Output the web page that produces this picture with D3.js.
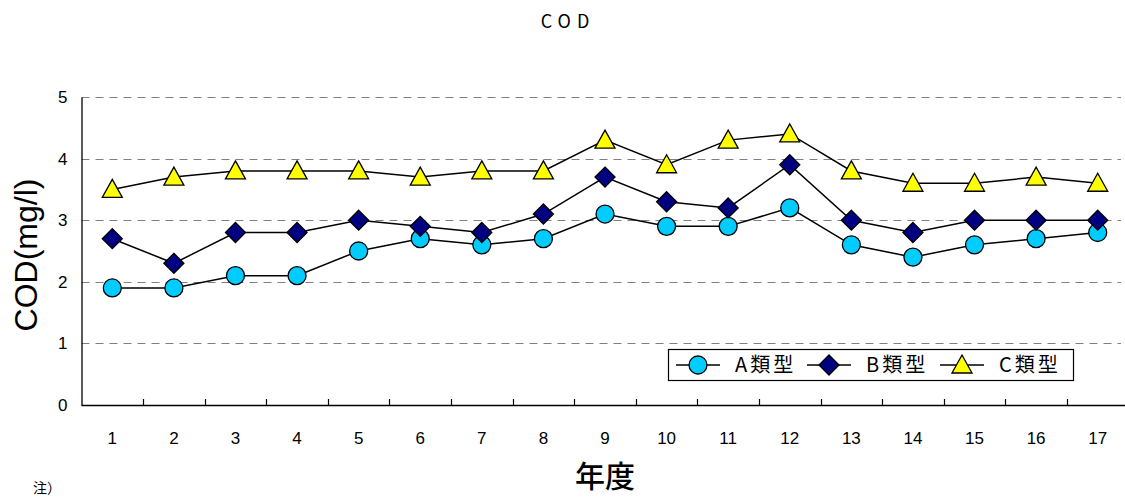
<!DOCTYPE html>
<html>
<head>
<meta charset="utf-8">
<script src="https://cdn.jsdelivr.net/npm/d3@7"></script>
<style>
  html, body { margin: 0; padding: 0; background: #fff; }
  svg { display: block; }
</style>
</head>
<body>
<svg id="chart" width="1125" height="497"></svg>
<script>
// Fiscal years and COD annual means (mg/l) by water-body class
const years = ["1","2","3","4","5","6","7","8","9","10","11","12","13","14","15","16","17"];
const typeA = [1.9,1.9,2.1,2.1,2.5,2.7,2.6,2.7,3.1,2.9,2.9,3.2,2.6,2.4,2.6,2.7,2.8];
const typeB = [2.7,2.3,2.8,2.8,3.0,2.9,2.8,3.1,3.7,3.3,3.2,3.9,3.0,2.8,3.0,3.0,3.0];
const typeC = [3.5,3.7,3.8,3.8,3.8,3.7,3.8,3.8,4.3,3.9,4.3,4.4,3.8,3.6,3.6,3.7,3.6];
const yTicks = [0,1,2,3,4,5];
const seriesNames = ["A類型","B類型","C類型"];

const svg = d3.select("#chart");
const plotLeft = 81.5, plotRight = 1128.5, plotTop = 97, plotBottom = 405;

const x = d3.scaleBand().domain(years).range([plotLeft, plotRight]).padding(0);
const y = d3.scaleLinear().domain([0, 5]).range([plotBottom, plotTop]);
const cx = d => x(d) + x.bandwidth() / 2;

// Title
svg.append("text")
  .attr("x", 568).attr("y", 28)
  .attr("text-anchor", "middle")
  .attr("font-family", "'Noto Sans CJK JP', sans-serif")
  .attr("font-size", 18)
  .attr("letter-spacing", 6)
  .text("COD");

// Dashed horizontal gridlines
svg.append("g").selectAll("line")
  .data(yTicks.filter(t => t > 0))
  .join("line")
  .attr("x1", plotLeft).attr("x2", 1121)
  .attr("y1", d => Math.round(y(d)) + 0.5).attr("y2", d => Math.round(y(d)) + 0.5)
  .attr("stroke", "#808080").attr("stroke-width", 1.2)
  .attr("stroke-dasharray", "8,6");

// Y axis
const yAxis = svg.append("g")
  .attr("transform", `translate(${plotLeft},0)`)
  .call(d3.axisLeft(y).tickValues(yTicks).tickSize(0).tickPadding(14).tickFormat(d3.format("d")));
yAxis.select(".domain").attr("stroke", "#000").attr("stroke-width", 1.3);
yAxis.selectAll("text")
  .attr("font-family", "'Liberation Sans', Arial, sans-serif")
  .attr("font-size", 17).attr("fill", "#000");

// X axis: ticks sit between categories, labels centred in each band
const xAxisG = svg.append("g").attr("transform", `translate(0,${plotBottom})`);
xAxisG.append("line")
  .attr("x1", plotLeft).attr("x2", 1125).attr("y1", 0.5).attr("y2", 0.5)
  .attr("stroke", "#000").attr("stroke-width", 1.3);
xAxisG.selectAll("line.tk")
  .data(years.slice(1))
  .join("line").attr("class", "tk")
  .attr("x1", d => Math.round(x(d)) + 0.5).attr("x2", d => Math.round(x(d)) + 0.5)
  .attr("y1", 0).attr("y2", -6)
  .attr("stroke", "#000").attr("stroke-width", 1.2);
xAxisG.selectAll("text")
  .data(years)
  .join("text")
  .attr("x", d => cx(d)).attr("y", 39)
  .attr("text-anchor", "middle")
  .attr("font-family", "'Liberation Sans', Arial, sans-serif")
  .attr("font-size", 17).attr("fill", "#000")
  .text(d => d);

// Axis titles
svg.append("text")
  .attr("transform", "translate(37,255) rotate(-90)")
  .attr("text-anchor", "middle")
  .attr("font-family", "'Liberation Sans', Arial, sans-serif")
  .attr("font-size", 32)
  .text("COD(mg/l)");

svg.append("text")
  .attr("x", 605).attr("y", 487)
  .attr("text-anchor", "middle")
  .attr("font-family", "'Noto Sans CJK JP', sans-serif")
  .attr("font-size", 30).attr("font-weight", 500)
  .text("年度");

svg.append("text")
  .attr("x", 33).attr("y", 493)
  .attr("font-family", "'Noto Sans CJK JP', sans-serif")
  .attr("font-size", 14)
  .text("注）");

// Marker drawing helpers
const markers = {
  circle: (g) => g.append("circle").attr("r", 9).attr("fill", "#00CCFF"),
  diamond: (g) => g.append("path").attr("d", "M0,-10L10,0L0,10L-10,0Z").attr("fill", "#000080"),
  triangle: (g) => g.append("path").attr("d", "M0,-10L10,8L-10,8Z").attr("fill", "#FFFF00")
};

const series = [
  { name: seriesNames[0], values: typeA, marker: "circle" },
  { name: seriesNames[1], values: typeB, marker: "diamond" },
  { name: seriesNames[2], values: typeC, marker: "triangle" }
];

const line = d3.line().x((d, i) => cx(years[i])).y(d => y(d));

series.forEach(s => {
  svg.append("path")
    .datum(s.values)
    .attr("d", line)
    .attr("fill", "none")
    .attr("stroke", "#000").attr("stroke-width", 1.5);
});
series.forEach(s => {
  s.values.forEach((v, i) => {
    const g = svg.append("g").attr("transform", `translate(${cx(years[i])},${y(v)})`);
    markers[s.marker](g).attr("stroke", "#000").attr("stroke-width", 1.3);
  });
});

// Legend
const lg = svg.append("g");
lg.append("rect")
  .attr("x", 668.5).attr("y", 349.5).attr("width", 405).attr("height", 31)
  .attr("fill", "#fff").attr("stroke", "#000").attr("stroke-width", 1.2);
const legendX = [676, 807, 940];
series.forEach((s, i) => {
  const lx = legendX[i], ly = 365;
  lg.append("line").attr("x1", lx).attr("x2", lx + 44).attr("y1", ly).attr("y2", ly)
    .attr("stroke", "#000").attr("stroke-width", 1.5);
  const g = lg.append("g").attr("transform", `translate(${lx + 22},${ly})`);
  markers[s.marker](g).attr("stroke", "#000").attr("stroke-width", 1.3);
  lg.append("text")
    .attr("x", lx + 59).attr("y", ly + 7)
    .attr("font-family", "'Noto Sans CJK JP', sans-serif")
    .attr("font-size", 20)
    .attr("letter-spacing", 3)
    .text(s.name);
});
</script>
</body>
</html>
